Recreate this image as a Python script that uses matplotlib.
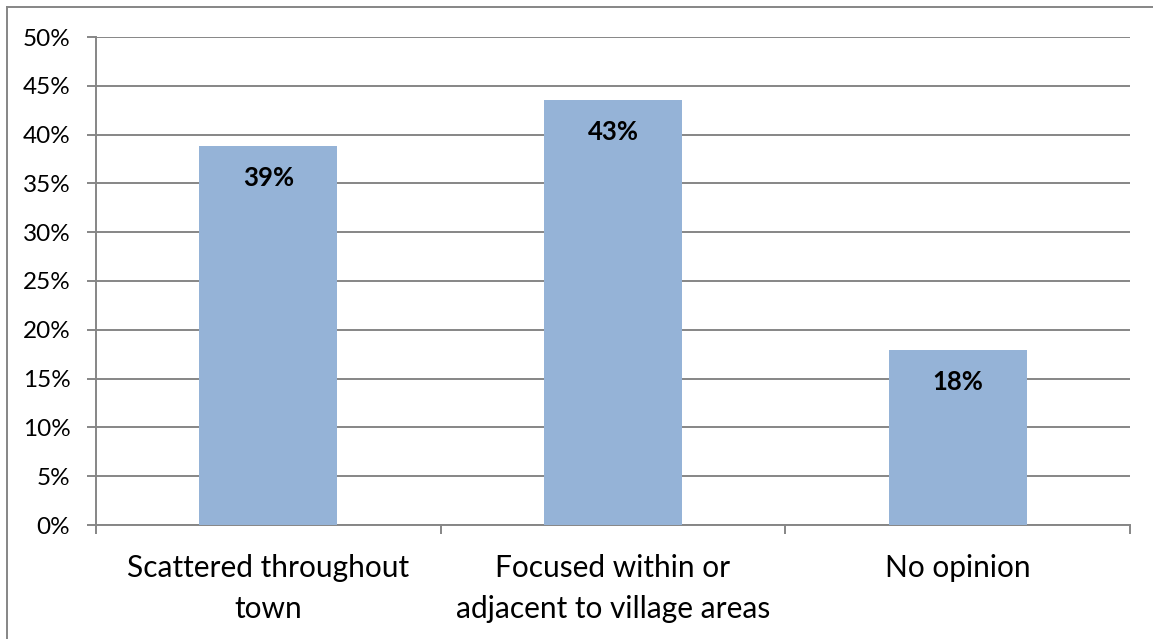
import matplotlib
matplotlib.use("Agg")
import matplotlib.pyplot as plt
from matplotlib.ticker import FuncFormatter, MultipleLocator, FixedLocator
from matplotlib.lines import Line2D

categories = ["Scattered throughout\ntown", "Focused within or\nadjacent to village areas", "No opinion"]
values = [0.388, 0.435, 0.179]
labels = ["39%", "43%", "18%"]

W, H = 1153, 639
DPI = 100
plt.rcParams['font.family'] = ['Lato', 'DejaVu Sans']

fig = plt.figure(figsize=(W / DPI, H / DPI), dpi=DPI)
fig.patch.set_facecolor('white')

left, right, top, bottom = 96, 1130, 37, 525
ax = fig.add_axes([left / W, 1 - bottom / H, (right - left) / W, (bottom - top) / H])

grid_c = '#868686'
bar_c = '#95B3D7'

x = list(range(len(categories)))
ax.bar(x, values, width=0.4, color=bar_c, zorder=3)

ax.set_xlim(-0.5, len(categories) - 0.5)
ax.set_ylim(0, 0.5)
ax.yaxis.set_major_locator(MultipleLocator(0.05))
ax.yaxis.set_major_formatter(FuncFormatter(lambda v, p: f"{v*100:.0f}%"))
ax.grid(axis='y', color=grid_c, linewidth=1.4, zorder=0)
ax.set_axisbelow(True)

ax.set_xticks(x)
ax.set_xticklabels(categories, fontsize=21.5, linespacing=1.55)
ax.xaxis.set_minor_locator(FixedLocator([i - 0.5 for i in range(len(categories) + 1)]))
ax.tick_params(axis='x', which='major', length=0, pad=21)
ax.tick_params(axis='x', which='minor', length=6.5, width=1.4, color=grid_c)
ax.tick_params(axis='y', which='major', length=6.5, width=1.4, color=grid_c, pad=12, labelsize=17.5)

for s in ['top', 'right']:
    ax.spines[s].set_visible(False)
for s in ['left', 'bottom']:
    ax.spines[s].set_color(grid_c)
    ax.spines[s].set_linewidth(1.4)

for xi, v, lab in zip(x, values, labels):
    ax.annotate(lab, xy=(xi, v), xytext=(0, -23), textcoords='offset points',
                ha='center', va='center', fontsize=18.5, fontweight='bold', color='black', zorder=4)

# chart border (top and left visible)
bx, by = 7, 7
fig.add_artist(Line2D([bx / W, bx / W], [0, 1 - by / H], transform=fig.transFigure, color=grid_c, linewidth=1.4))
fig.add_artist(Line2D([bx / W, 1], [1 - by / H, 1 - by / H], transform=fig.transFigure, color=grid_c, linewidth=1.4))

fig.savefig("out.png", dpi=DPI)
